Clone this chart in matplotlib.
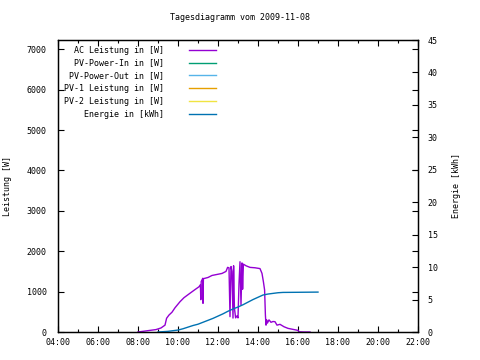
import numpy as np
import matplotlib
matplotlib.use("Agg")
import matplotlib.pyplot as plt
from matplotlib.lines import Line2D

# AC Leistung [W], time in hours
ac_time = [8.0, 8.3, 8.6, 8.9, 9.15, 9.35, 9.43, 9.55, 9.7, 9.85, 10.1, 10.3, 10.6,
           10.85, 11.05, 11.12, 11.14, 11.16, 11.2, 11.24, 11.25, 11.27, 11.5, 11.7,
           12.0, 12.2, 12.4, 12.48, 12.55, 12.6, 12.65, 12.7, 12.75, 12.78, 12.82,
           12.88, 12.95, 13.0, 13.05, 13.1, 13.15, 13.2, 13.23, 13.27, 13.4, 13.6,
           13.85, 14.1, 14.2, 14.27, 14.33, 14.37, 14.4, 14.43, 14.47, 14.55, 14.65,
           14.75, 14.85, 14.95, 15.1, 15.3, 15.5, 15.65, 15.8, 16.0, 16.05, 16.3, 16.6]
ac_power = [0, 20, 40, 60, 100, 170, 340, 420, 490, 600, 750, 850, 960,
            1050, 1120, 1170, 800, 1250, 1290, 1330, 710, 1320, 1350, 1400,
            1430, 1450, 1500, 1600, 1590, 380, 1620, 1500, 345, 1640, 600,
            350, 400, 350, 1200, 1740, 670, 1710, 1060, 1680, 1640, 1600,
            1590, 1570, 1450, 1245, 1040, 420, 170, 300, 220, 300, 240,
            260, 255, 170, 190, 130, 90, 75, 60, 40, 5, 0, 0]

# Energie [kWh]
en_time = [9.0, 9.25, 9.5, 9.75, 10.0, 10.25, 10.5, 10.75, 11.0, 11.25, 11.5, 11.75,
           12.0, 12.25, 12.5, 12.75, 13.0, 13.25, 13.5, 13.75, 14.0, 14.25, 14.5,
           14.75, 15.0, 15.25, 16.0, 17.0]
en_kwh = [0, 0.05, 0.1, 0.2, 0.3, 0.5, 0.75, 1.0, 1.2, 1.5, 1.8, 2.1,
          2.45, 2.8, 3.2, 3.55, 3.85, 4.2, 4.6, 5.0, 5.35, 5.7, 5.85,
          5.95, 6.05, 6.1, 6.12, 6.15]

x_ticks = [4, 6, 8, 10, 12, 14, 16, 18, 20, 22]
x_labels = ["%02d:00" % h for h in x_ticks]
y_ticks = [0, 1000, 2000, 3000, 4000, 5000, 6000, 7000]
y2_ticks = [0, 5, 10, 15, 20, 25, 30, 35, 40, 45]

labels = ["AC Leistung in [W]", "PV-Power-In in [W]", "PV-Power-Out in [W]",
          "PV-1 Leistung in [W]", "PV-2 Leistung in [W]", "Energie in [kWh]"]
colors = ["#9400D3", "#009E73", "#56B4E9", "#E69F00", "#F0E442", "#0072B2"]

plt.rcParams["font.family"] = "DejaVu Sans Mono"
plt.rcParams["font.size"] = 6

fig = plt.figure(figsize=(4.8, 3.6), dpi=100)
ax = fig.add_axes([58 / 480, 28 / 360, 360 / 480, 292 / 360])
ax2 = ax.twinx()

ax.plot(ac_time, ac_power, color=colors[0], lw=1.0)
ax2.plot(en_time, en_kwh, color=colors[5], lw=1.0)

ax.set_xlim(4, 22)
ax.set_ylim(0, 7230)
ax2.set_ylim(0, 45)

ax.set_xticks(x_ticks)
ax.set_xticklabels(x_labels)
ax.set_xticks(np.arange(4, 23, 1), minor=True)
ax.set_yticks(y_ticks)
ax2.set_yticks(y2_ticks)

ax.tick_params(axis="x", which="major", direction="in", length=4, width=0.8,
               top=True, pad=4)
ax.tick_params(axis="x", which="minor", direction="in", length=2, width=0.8, top=True)
ax.tick_params(axis="y", which="major", direction="in", length=4, width=0.8,
               right=True, pad=8)
ax2.tick_params(axis="y", which="major", direction="in", length=4, width=0.8, pad=7)

for a in (ax, ax2):
    for s in a.spines.values():
        s.set_linewidth(0.9)
        s.set_color("black")

ax.set_ylabel("Leistung [W]")
ax.yaxis.set_label_coords((12 - 58) / 360, 0.5)
ax2.set_ylabel("Energie [kWh]")
ax2.yaxis.set_label_coords((452 - 58) / 360, 0.5)
fig.text(0.5, 1 - 18 / 360, "Tagesdiagramm vom 2009-11-08", ha="center", va="center")

handles = [Line2D([], [], color=c, lw=1.0) for c in colors]
ax.legend(handles, labels, loc="upper right", bbox_to_anchor=((222 - 58) / 360, 1.0),
          frameon=False, markerfirst=False, handlelength=3.3, handletextpad=3.0,
          labelspacing=0.45, borderaxespad=0.3)

fig.savefig("out.png", dpi=100)
